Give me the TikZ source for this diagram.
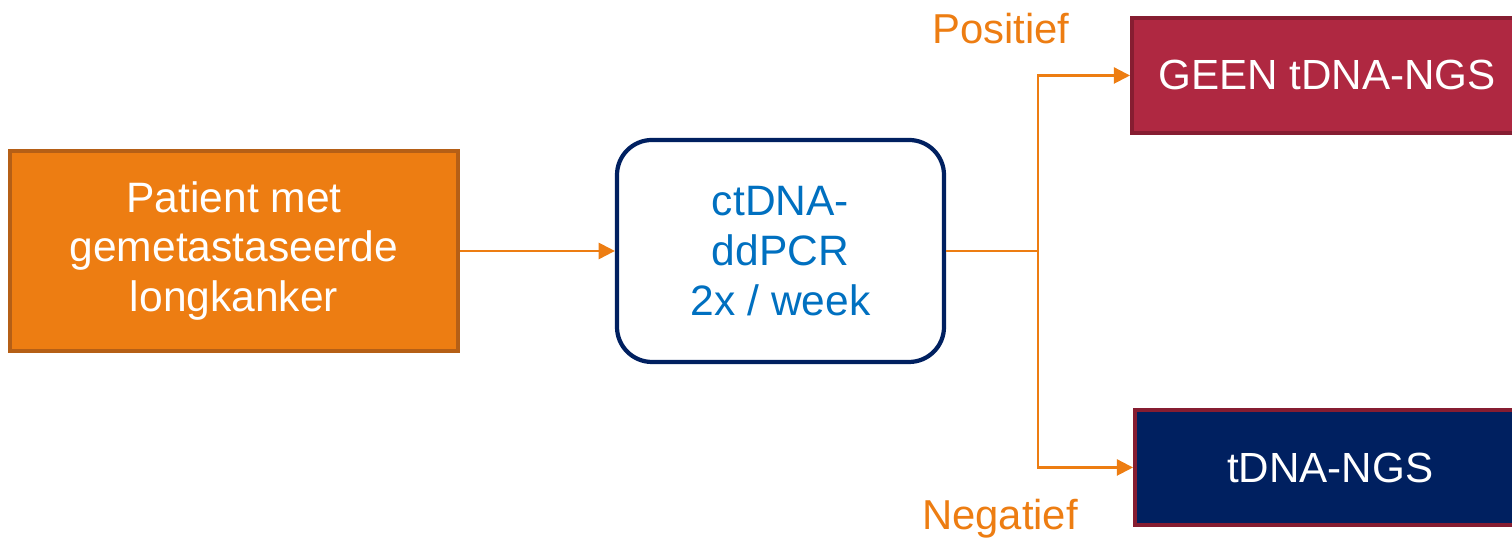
\documentclass[tikz,border=0pt]{standalone}
\usepackage{fontspec}
\setmainfont{Liberation Sans}
\usepackage{xcolor}
\usetikzlibrary{arrows.meta,positioning}

\definecolor{flowOrange}{HTML}{ED7D12}
\definecolor{flowOrangeDark}{HTML}{B55F16}
\definecolor{flowNavy}{HTML}{002060}
\definecolor{flowBlue}{HTML}{0070C0}
\definecolor{flowRed}{HTML}{AF2841}
\definecolor{flowRedDark}{HTML}{861D31}

\begin{document}
\begin{tikzpicture}[
  box/.style={draw, align=center, inner sep=3pt, text=white},
  start/.style={box, fill=flowOrange, draw=flowOrangeDark, line width=1pt,
                minimum width=4.48cm, minimum height=2cm,
                font=\fontsize{12.1}{14.2}\selectfont},
  test/.style={box, fill=white, draw=flowNavy, line width=1.2pt, rounded corners=0.35cm,
               minimum width=3.27cm, minimum height=2.22cm, text=flowBlue,
               font=\fontsize{12.1}{14.2}\selectfont},
  outcome/.style={box, draw=flowRedDark, line width=1.2pt,
                  minimum width=3.9cm, minimum height=1.15cm,
                  font=\fontsize{12}{14}\selectfont},
  tag/.style={text=flowOrange, font=\fontsize{11.9}{14}\selectfont},
  arrow/.style={draw=flowOrange, line width=0.6pt, -{Triangle[length=4.6pt,width=4.6pt]}}
]
  \clip (0,0) rectangle (15.12,5.41);
  \node[start] (patient) at (2.34,2.90) {Patient met\\gemetastaseerde\\longkanker};
  \node[test] (ddpcr) at (7.805,2.90) {ctDNA-\\ddPCR\\2x / week};
  \node[outcome, fill=flowRed, anchor=west] (geen) at (11.30,4.655) {GEEN tDNA-NGS};
  \node[outcome, fill=flowNavy, anchor=west] (ngs) at (11.33,0.735) {tDNA-NGS};
  \coordinate (split) at (10.38,2.90);
  \node[tag] (pos) at (10.01,5.12) {Positief};
  \node[tag] (neg) at (10.00,0.22) {Negatief};
  \draw[arrow] (patient) -- (ddpcr);
  \draw[arrow, -] (ddpcr) -- (split);
  \draw[arrow] (split) |- (geen);
  \draw[arrow] (split) |- (ngs);
\end{tikzpicture}
\end{document}
